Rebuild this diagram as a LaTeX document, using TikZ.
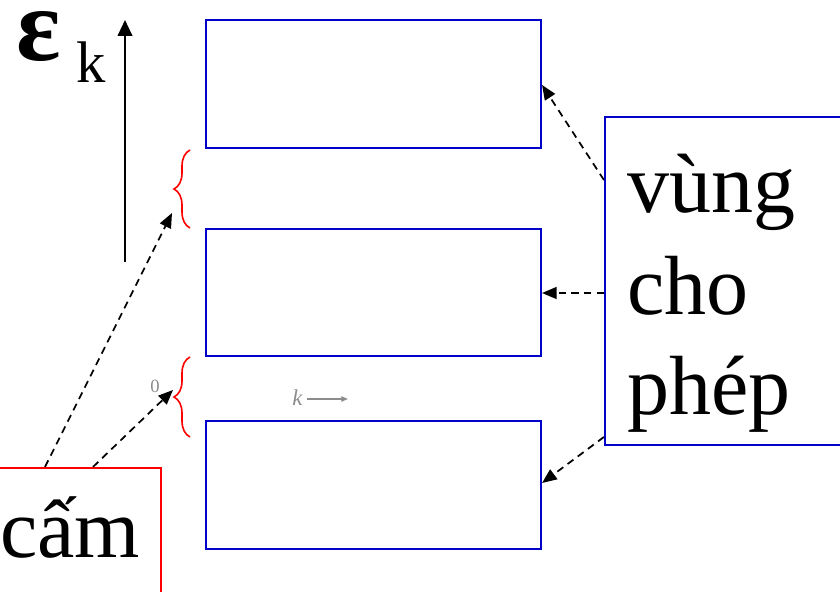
\documentclass[tikz,border=0pt]{standalone}
\usepackage{fontspec}
\setmainfont{Liberation Serif}
\usetikzlibrary{arrows.meta,decorations.pathreplacing}
\definecolor{bandblue}{RGB}{0,0,200}
\definecolor{gapred}{RGB}{255,0,0}
\tikzset{
  band/.style={draw=bandblue, line width=1.6pt, minimum width=251.25pt, inner sep=0pt},
  framebox/.style={draw=#1, line width=1.6pt, inner sep=0pt},
  label/.style={inner sep=0pt, anchor=base west},
  bigtext/.style={label, font=\fontsize{63}{63}\selectfont},
  dasharrow/.style={line width=1.3pt, dash pattern=on 5.5pt off 4pt,
    -{Triangle[length=11pt,width=9pt]}},
  axisarrow/.style={line width=1.5pt, -{Triangle[length=12pt,width=11pt]}},
  gapbrace/.style={draw=gapred, line width=1.2pt, decorate,
    decoration={brace, amplitude=12pt, aspect=0.5}},
  faint/.style={text=black!45, inner sep=0pt, anchor=base west}
}
\begin{document}
\begin{tikzpicture}[x=0.75pt, y=-0.75pt]
  \useasboundingbox (0,0) rectangle (840,592);
  \clip (0,0) rectangle (840,592);

  % energy axis
  \coordinate (axbot) at (125,262);
  \coordinate (axtop) at (125,20);
  \draw[axisarrow] (axbot) -- (axtop);
  \node[label, text height=37pt, font=\fontsize{78}{78}\selectfont\bfseries] (eps) at (16,61) {ε};
  \node[label, font=\fontsize{44}{44}\selectfont] (ksub) at (76,83) {k};

  % allowed bands
  \node[band, minimum height=96pt] (b1) at (373.5,84) {};
  \node[band, minimum height=95.25pt] (b2) at (373.5,292.5) {};
  \node[band, minimum height=96pt] (b3) at (373.5,485) {};

  % forbidden gaps
  \draw[gapbrace] (190,228) -- (190,150);
  \draw[gapbrace] (190,437) -- (190,357);

  % faint axis labels inside the lower gap
  \node[faint, font=\fontsize{14}{14}\selectfont] (zero) at (150,392) {0};
  \node[faint, font=\fontsize{17}{17}\selectfont\itshape] (kax) at (292,405) {k};
  \coordinate (kend) at (348,399);
  \draw[black!45, line width=0.9pt, -{Triangle[length=5pt,width=4pt]}]
    (kax.east |- 0,399) ++(4,0) -- (kend);

  % label boxes
  \node[framebox=bandblue, minimum width=191.25pt, minimum height=246pt] (allow) at (732.5,281) {};
  \node[bigtext] (t1) at (627,212) {vùng};
  \node[bigtext] (t2) at (627,314) {cho};
  \node[bigtext] (t3) at (627,414) {phép};

  \node[framebox=gapred, minimum width=135.75pt, minimum height=108pt] (cam) at (70.5,540) {};
  \node[bigtext] (t4) at (0,557) {cấm};

  % pointers
  \coordinate (gapA) at (172,213);
  \coordinate (gapB) at (173,390);
  \draw[dasharrow] (cam.north -| 45,0) -- (gapA);
  \draw[dasharrow] (cam.north -| 93,0) -- (gapB);
  \draw[dasharrow] (allow.west |- 0,180) -- (b1.east |- 0,85);
  \draw[dasharrow] (allow.west |- 0,293) -- (b2.east |- 0,293);
  \draw[dasharrow] (allow.west |- 0,437) -- (b3.east |- 0,483);
\end{tikzpicture}
\end{document}
